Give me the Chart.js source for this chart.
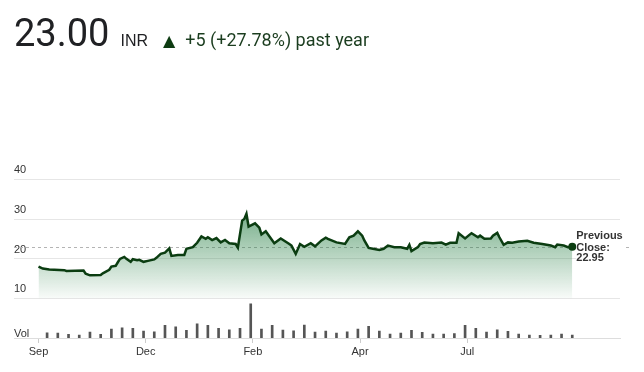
<!DOCTYPE html>
<html><head><meta charset="utf-8">
<script src="https://cdn.jsdelivr.net/npm/chart.js@4.4.1/dist/chart.umd.min.js"></script>
<style>
html,body{margin:0;padding:0;background:#fff;}
#wrap{position:relative;width:644px;height:372px;overflow:hidden;}
#hdr{position:absolute;left:14px;top:14px;display:flex;align-items:baseline;white-space:nowrap;font-family:Roboto,sans-serif;}
#price{font-size:38px;color:#202124;line-height:1;}
#cur{font-size:16px;color:#202124;margin-left:11px;font-family:"Liberation Sans",Arial,sans-serif;}
#tri{font-size:16px;color:#0d3b12;margin-left:15px;font-family:"DejaVu Sans",sans-serif;}
#chg{font-size:18px;color:#1b3d1f;margin-left:10px;}
canvas{position:absolute;left:0;top:0;}
</style></head><body>
<div id="wrap">
<canvas id="c" width="644" height="372"></canvas>
<div id="hdr"><span id="price">23.00</span><span id="cur">INR</span><span id="tri">▲</span><span id="chg">+5 (+27.78%) past year</span></div>
</div>
<script>
// trading-day index (0 = start of Sep) and closing price
const priceDays = [0,2,5,12,13,21,22,24,29,30,33,34,36,37,38,40,41,43,44,46,47,49,51,54,55,57,59,61,62,65,68,69,72,74,76,78,79,81,83,85,87,89,92,93,95,96,97,98,101,103,104,106,108,110,113,117,118,120,122,124,127,129,132,134,135,139,143,145,147,149,151,152,154,156,159,161,163,166,169,172,173,174,177,178,180,184,188,190,192,195,196,199,201,202,205,206,208,211,212,214,215,217,219,221,224,228,231,235,239,241,242,245,247,249];
const priceValues = [18.0,17.5,17.25,17.1,16.9,17.0,16.2,15.8,15.9,16.3,17.2,18.0,18.2,19.1,19.95,20.45,19.95,19.2,19.85,19.6,19.7,19.2,19.45,19.8,20.2,21.2,21.5,22.6,20.7,20.95,20.95,22.5,22.9,24.0,25.6,25.0,25.4,24.7,25.2,24.1,24.7,23.9,23.7,22.8,29.6,30.0,31.3,28.1,28.9,27.8,26.1,26.9,25.4,23.9,25.1,23.7,23.3,21.2,23.7,23.0,23.9,23.1,24.6,25.3,25.0,24.1,23.7,25.4,25.8,26.9,25.8,24.6,22.7,22.5,22.2,22.5,23.3,22.9,22.9,22.5,23.5,21.9,22.9,23.7,24.05,23.9,24.05,23.55,24.0,24.0,26.4,25.1,26.0,26.4,25.4,25.8,25.0,25.1,25.8,26.5,25.4,23.5,24.1,24.0,24.3,24.5,24.0,23.7,23.3,22.9,23.55,23.3,22.9,23.0];
// weekly volume bars (week ending trading day)
const volumeDays = Array.from({length:50},(_,i)=>4+5*i);
const volumes = [53,50,37,30,60,37,90,103,97,70,63,127,113,77,143,127,97,83,97,343,90,127,80,73,130,60,70,50,63,90,117,70,40,50,77,57,40,40,43,127,97,60,83,67,40,30,27,30,40,30];
// axis labels
const monthTickDays = [0,50,100,150,200];
const monthLabels = ['Sep','Dec','Feb','Apr','Jul'];
const priceTicks = [10,20,30,40];
const previousClose = 22.95;

const axisFont = {family:'"Liberation Sans", Arial, sans-serif', size:11};
const lastIdx = priceValues.length-1;

const prevClosePlugin = {
  id:'prevClose',
  beforeDatasetsDraw(chart){
    const c = chart.ctx, y = chart.scales.y.getPixelForValue(previousClose);
    c.save();
    c.strokeStyle = '#b4b4b4'; c.lineWidth = 1; c.setLineDash([3,3]);
    c.beginPath(); c.moveTo(chart.chartArea.left, Math.round(y)+0.5); c.lineTo(632, Math.round(y)+0.5); c.stroke();
    c.restore();
  },
  afterDatasetsDraw(chart){
    const c = chart.ctx, y = chart.scales.y.getPixelForValue(previousClose);
    const x = chart.scales.x.getPixelForValue(priceDays[lastIdx]) + 4;
    c.save();
    c.fillStyle = '#ffffff';
    c.fillRect(x, y-17, 48, 34);
    c.font = 'bold 11px "Liberation Sans", Arial, sans-serif';
    c.fillStyle = '#333333'; c.textBaseline = 'middle'; c.textAlign = 'left';
    c.fillText('Previous', x, y-10.5);
    c.fillText('Close:', x, y+0.9);
    c.fillText(previousClose.toFixed(2), x, y+11.3);
    c.restore();
  }
};

new Chart(document.getElementById('c'), {
  type:'line',
  data:{
    datasets:[
      {
        type:'line',
        data: priceDays.map((d,i)=>({x:d,y:priceValues[i]})),
        yAxisID:'y',
        borderColor:'#0b3d11', borderWidth:2.5, tension:0,
        pointRadius:(ctx)=> ctx.dataIndex===lastIdx?4:0,
        pointBackgroundColor:'#0b3d11', pointBorderWidth:0,
        fill:{value:10},
        backgroundColor:(ctx)=>{
          const ch = ctx.chart; if(!ch.chartArea) return 'rgba(0,0,0,0)';
          const ys = ch.scales.y;
          const g = ch.ctx.createLinearGradient(0, ys.getPixelForValue(31), 0, ys.getPixelForValue(10));
          g.addColorStop(0,'rgba(35,125,65,0.6)');
          g.addColorStop(1,'rgba(35,125,65,0.03)');
          return g;
        },
        order:1
      },
      {
        type:'bar',
        data: volumeDays.map((d,i)=>({x:d,y:volumes[i]})),
        yAxisID:'yv',
        backgroundColor:'#555555',
        barThickness:2,
        order:2
      }
    ]
  },
  options:{
    responsive:false, animation:false,
    layout:{padding:{left:14,right:24,top:159.5,bottom:11.8}},
    plugins:{legend:{display:false},tooltip:{enabled:false}},
    scales:{
      x:{
        type:'linear', min:-11.44, max:271.27, bounds:'data', offset:false,
        afterBuildTicks:(s)=>{ s.ticks = monthTickDays.map(v=>({value:v})); },
        ticks:{callback:(v)=>{const i=monthTickDays.indexOf(v);return i>=0?monthLabels[i]:'';}, font:axisFont, color:'#333', padding:2, maxRotation:0, autoSkip:false},
        grid:{display:true, offset:false, drawOnChartArea:false, drawTicks:true, tickLength:5, color:'#cccccc'},
        border:{display:true, color:'#dddddd'}
      },
      y:{
        type:'linear', position:'left', min:0, max:45,
        afterBuildTicks:(s)=>{ s.ticks = priceTicks.map(v=>({value:v})); },
        ticks:{mirror:true, padding:0, labelOffset:-9, font:axisFont, color:'#333'},
        grid:{color:'#e6e6e6', drawTicks:false},
        border:{display:false}
      },
      yv:{
        type:'linear', position:'left', min:0, max:1787,
        afterBuildTicks:(s)=>{ s.ticks = [{value:0}]; },
        ticks:{mirror:true, padding:0, labelOffset:-4.5, font:axisFont, color:'#333', callback:()=> 'Vol'},
        grid:{display:false, drawTicks:false},
        border:{display:false}
      }
    }
  },
  plugins:[prevClosePlugin]
});
</script>
</body></html>
